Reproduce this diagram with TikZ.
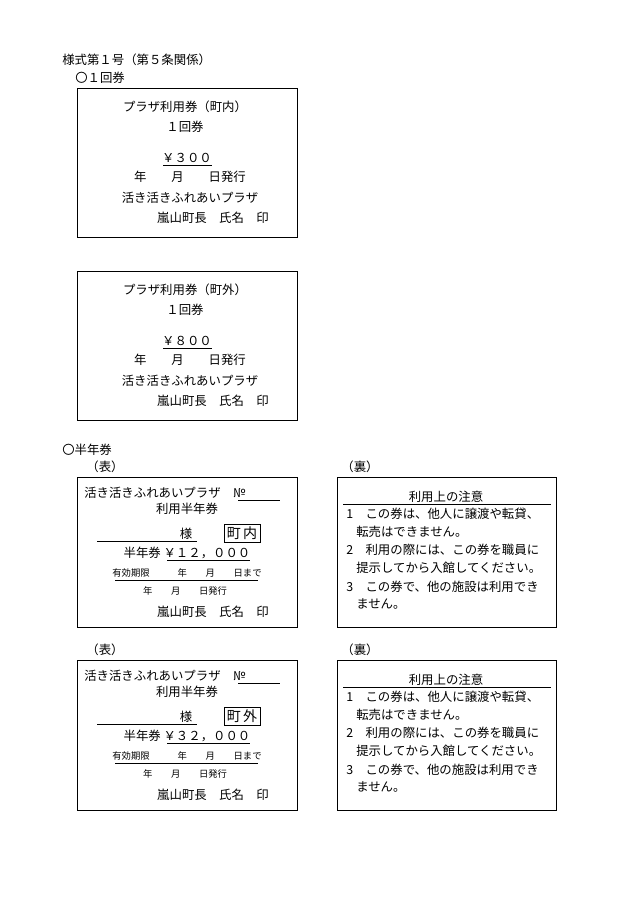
\documentclass[tikz,border=0pt]{standalone}
\usepackage{fontspec}
\setmainfont{Noto Sans CJK JP}
\begin{document}
\begin{tikzpicture}[x=0.75pt,y=-0.75pt,
  t/.style={inner sep=0pt,font=\fontsize{9.3}{11}\selectfont},
  tl/.style={t,anchor=west},
  sm/.style={inner sep=0pt,font=\fontsize{7}{9}\selectfont},
  bx/.style={draw,line width=0.6pt},
  ul/.style={line width=0.6pt}]
\useasboundingbox (0,0) rectangle (630,915);
\node[tl] (h1) at (62,60) {様式第１号（第５条関係）};
\node[tl] (h2) at (75,78) {〇１回券};
\node[tl] (h3) at (62,450) {〇半年券};
\foreach \dy/\kind/\price [count=\i] in {0/内/３００,183/外/８００}{
  \draw[bx] (77,88+\dy) rectangle (297,237+\dy);
  \node[t] (a\i) at (185,107+\dy) {プラザ利用券（町\kind）};
  \node[t] (b\i) at (185,127+\dy) {１回券};
  \node[t] (c\i) at (187,158+\dy) {￥\price};
  \draw[ul] (163,165+\dy) -- (212,165+\dy);
  \node[t] (d\i) at (190,177+\dy) {年　　月　　日発行};
  \node[t] (e\i) at (190,198+\dy) {活き活きふれあいプラザ};
  \node[t] (f\i) at (213,218+\dy) {嵐山町長　氏名　印};
}
\foreach \dy/\kind/\price [count=\i] in {0/内/１２，０００,183/外/３２，０００}{
  \node[t] (p\i) at (105,467+\dy) {（表）};
  \node[t] (q\i) at (360,467+\dy) {（裏）};
  \draw[bx] (77,477+\dy) rectangle (297,627+\dy);
  \draw[bx] (337,477+\dy) rectangle (556,627+\dy);
  \node[tl] (g\i) at (84,493+\dy) {活き活きふれあいプラザ　№};
  \draw[ul] (238,500+\dy) -- (280,500+\dy);
  \node[t] (h\i) at (187,509+\dy) {利用半年券};
  \node[t] (s\i) at (186,534+\dy) {様};
  \draw[ul] (97,541+\dy) -- (197,541+\dy);
  \node[draw,inner sep=2pt,font=\fontsize{10.5}{12}\selectfont] (k\i) at (242,533+\dy) {町\,\kind};
  \node[t] (m\i) at (187,553+\dy) {半年券 ￥\price};
  \draw[ul] (167,560+\dy) -- (250,560+\dy);
  \node[sm] (n\i) at (187,573+\dy) {有効期限　　　年　　月　　日まで};
  \draw[ul] (115,580+\dy) -- (258,580+\dy);
  \node[sm] (o\i) at (185,591+\dy) {年　　月　　日発行};
  \node[t] (r\i) at (213,612+\dy) {嵐山町長　氏名　印};
  \node[t] (u\i) at (446,497+\dy) {利用上の注意};
  \draw[ul] (343,504+\dy) -- (551,504+\dy);
  \node[tl] (v1\i) at (346,514+\dy) {1　この券は、他人に譲渡や転貸、};
  \node[tl] (v2\i) at (356,532+\dy) {転売はできません。};
  \node[tl] (v3\i) at (346,550+\dy) {2　利用の際には、この券を職員に};
  \node[tl] (v4\i) at (356,568+\dy) {提示してから入館してください。};
  \node[tl] (v5\i) at (346,587+\dy) {3　この券で、他の施設は利用でき};
  \node[tl] (v6\i) at (356,604+\dy) {ません。};
}
\end{tikzpicture}
\end{document}
